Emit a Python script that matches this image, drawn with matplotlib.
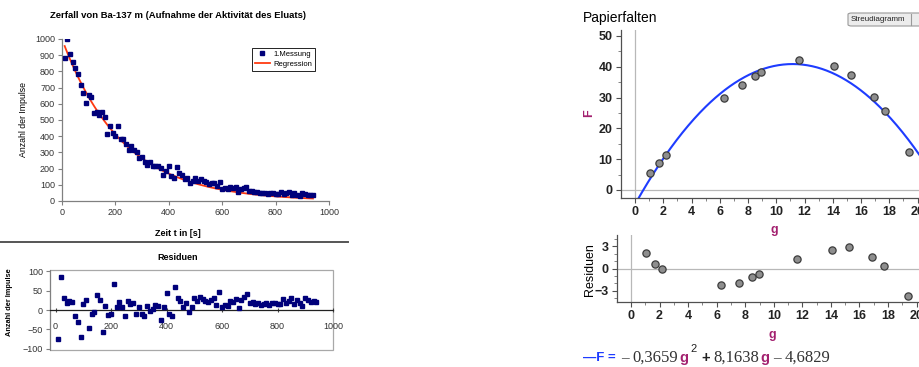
import matplotlib
matplotlib.use('Agg')
import matplotlib.pyplot as plt
import numpy as np
from matplotlib.patches import FancyBboxPatch, Rectangle
from matplotlib.lines import Line2D
from matplotlib.ticker import MultipleLocator

plt.rcParams['font.family'] = ['Liberation Sans', 'DejaVu Sans']

# ---------------- data: left panel (Ba-137m decay) ----------------
zeit = list(range(10, 950, 10))
impulse = [883, 1001, 907, 856, 823, 787, 717, 669, 602, 656,
           639, 541, 552, 531, 552, 517, 413, 460, 418, 402,
           461, 383, 380, 353, 313, 339, 316, 305, 266, 271,
           242, 225, 242, 217, 214, 216, 204, 159, 184, 214,
           152, 139, 208, 173, 159, 136, 141, 114, 122, 140,
           126, 133, 123, 115, 107, 109, 110, 90, 118, 76,
           80, 73, 85, 78, 84, 58, 77, 81, 88, 62,
           64, 56, 56, 51, 52, 52, 45, 48, 48, 44,
           44, 54, 43, 48, 55, 38, 47, 37, 29, 49,
           44, 37, 40, 37]
reg_start = 1000.0      # regression amplitude
reg_tau = 225.0         # regression decay time constant [s]

# ---------------- data: right panel (Papierfalten) ----------------
g_vals = [1.05, 1.7, 2.2, 6.3, 7.55, 8.5, 8.95, 11.6, 14.1, 15.3, 16.9, 17.7, 19.4]
F_vals = [5.5, 8.7, 11.4, 30.0, 34.1, 37.1, 38.3, 42.1, 40.1, 37.4, 30.3, 25.5, 12.3]
coef_a, coef_b, coef_c = -0.3659, 8.1638, -4.6829

W, H = 920, 367
fig = plt.figure(figsize=(W / 100, H / 100), dpi=100)
fig.patch.set_facecolor('white')


def add_ax(l, t, r, b):
    return fig.add_axes([l / W, 1 - b / H, (r - l) / W, (b - t) / H])


def ftext(x, y, s, **kw):
    return fig.text(x / W, 1 - y / H, s, **kw)


t = np.array(zeit, dtype=float)
counts = np.array(impulse, dtype=float)
regression = reg_start * np.exp(-t / reg_tau)
resid_left = counts - regression

navy = '#00007a'
# ---- left top ----
ax1 = add_ax(62, 39, 329, 201)
ax1.plot(t, counts, 's', color=navy, ms=2.3, mec=navy, label='1.Messung', zorder=3)
ax1.plot(t, regression, color='#ff3a10', lw=1.3, label='Regression', zorder=2)
ax1.set_xlim(0, 1000)
ax1.set_ylim(0, 1000)
ax1.set_xticks(range(0, 1001, 200))
ax1.set_yticks(range(0, 1001, 100))
for s in ['top', 'right']:
    ax1.spines[s].set_visible(False)
for s in ['left', 'bottom']:
    ax1.spines[s].set_color('#808080')
    ax1.spines[s].set_linewidth(0.9)
ax1.tick_params(labelsize=6.5, length=3, color='#808080', pad=2, labelcolor='#333333')
leg = ax1.legend(loc='upper left', bbox_to_anchor=(0.712, 0.945), fontsize=5.5,
                 frameon=True, fancybox=False, edgecolor='black', framealpha=1,
                 handlelength=2.0, borderpad=0.35, labelspacing=0.35, handletextpad=0.5,
                 borderaxespad=0)
leg.get_frame().set_linewidth(0.6)

ftext(178, 15, 'Zerfall von Ba-137 m (Aufnahme der Aktivität des Eluats)',
      ha='center', va='center', fontsize=6.8, fontweight='bold')
ftext(24, 120, 'Anzahl der Impulse', rotation=90, ha='center', va='center', fontsize=6.3)
ftext(178, 233, 'Zeit t in [s]', ha='center', va='center', fontsize=6.5, fontweight='bold')
fig.add_artist(Line2D([0, 348 / W], [1 - 242 / H, 1 - 242 / H], color='#555555', lw=1.4))

# ---- left residuals ----
ax2 = add_ax(50, 270, 333, 350)
ax2.plot(t, resid_left, 's', color=navy, ms=2.3, mec=navy, zorder=3)
ax2.set_xlim(-20, 1000)
ax2.set_ylim(-103, 103)
ax2.spines['bottom'].set_position(('data', 0))
ax2.spines['bottom'].set_color('#222222')
ax2.spines['bottom'].set_linewidth(0.9)
ax2.spines['left'].set_color('#808080')
for s in ['top', 'right']:
    ax2.spines[s].set_visible(False)
ax2.add_patch(Rectangle((0, 0), 1, 1, transform=ax2.transAxes, fill=False,
                        ec='#a8a8a8', lw=0.9, clip_on=False, zorder=0))
ax2.set_xticks(range(0, 1001, 200))
ax2.set_yticks([-100, -50, 0, 50, 100])
ax2.tick_params(axis='x', labelsize=6.5, length=3, direction='inout', pad=7,
                color='#444444', labelcolor='#333333')
ax2.tick_params(axis='y', labelsize=6.5, length=3, pad=2, color='#808080', labelcolor='#333333')
ftext(178, 257, 'Residuen', ha='center', va='center', fontsize=6.5, fontweight='bold')
ftext(10, 302, 'Anzahl der Impulse', rotation=90, ha='center', va='center',
      fontsize=5.3, fontweight='bold')

# ---------------- right panel ----------------
g = np.array(g_vals)
Fv = np.array(F_vals)
gg = np.linspace(0.0, 20.5, 300)
Fcurve = coef_a * gg ** 2 + coef_b * gg + coef_c
resid_right = Fv - (coef_a * g ** 2 + coef_b * g + coef_c)
purple = '#a3206f'
blue = '#1e3cff'


def style_right(ax):
    for s in ['top', 'right']:
        ax.spines[s].set_visible(False)
    for s in ['left', 'bottom']:
        ax.spines[s].set_color('#505050')
        ax.spines[s].set_linewidth(0.9)
    ax.xaxis.set_major_locator(MultipleLocator(2))
    ax.xaxis.set_minor_locator(MultipleLocator(1))
    ax.tick_params(which='major', labelsize=9, length=3.5, width=0.8,
                   color='#505050', pad=2.5, labelcolor='#222222')
    ax.tick_params(which='minor', length=2, width=0.6, color='#707070')
    for lab in ax.get_xticklabels() + ax.get_yticklabels():
        lab.set_fontweight('bold')
    ax.axvline(0, color='#b8b8b8', lw=0.9, zorder=1)
    ax.axhline(0, color='#b8b8b8', lw=0.9, zorder=1)


ax3 = add_ax(621, 30, 920, 198)
ax3.plot(gg, Fcurve, color=blue, lw=1.5, zorder=2)
ax3.plot(g, Fv, 'o', ms=5.2, mfc='#8e8e8e', mec='#3c3c3c', mew=0.9, zorder=3)
ax3.set_xlim(-0.99, 20.17)
ax3.set_ylim(-2.6, 51.9)
ax3.yaxis.set_major_locator(MultipleLocator(10))
ax3.yaxis.set_minor_locator(MultipleLocator(5))
style_right(ax3)

ax4 = add_ax(617, 235, 920, 302)
ax4.plot(g, resid_right, 'o', ms=5.2, mfc='#8e8e8e', mec='#3c3c3c', mew=0.9, zorder=3)
ax4.set_xlim(-0.98, 20.24)
ax4.set_ylim(-4.47, 4.47)
ax4.set_yticks([-3, 0, 3])
ax4.yaxis.set_minor_locator(MultipleLocator(1))
style_right(ax4)

ftext(583, 18, 'Papierfalten', ha='left', va='center', fontsize=10)
ftext(589, 113, 'F', rotation=90, ha='center', va='center', fontsize=9,
      fontweight='bold', color=purple)
ftext(774, 230, 'g', ha='center', va='center', fontsize=9, fontweight='bold', color=purple)
ftext(590, 270, 'Residuen', rotation=90, ha='center', va='center', fontsize=9)
ftext(772, 335, 'g', ha='center', va='center', fontsize=9, fontweight='bold', color=purple)

# button
fig.add_artist(FancyBboxPatch((848 / W, 1 - 26 / H), 78 / W, 13 / H,
                              boxstyle='round,pad=0,rounding_size=0.004',
                              transform=fig.transFigure, fc='#ececec', ec='#9a9a9a', lw=0.8))
fig.add_artist(Line2D([911 / W, 911 / W], [1 - 25 / H, 1 - 14 / H], color='#9a9a9a', lw=0.8))
ftext(851, 19.5, 'Streudiagramm', ha='left', va='center', fontsize=5.8, color='#222222')

# equation: laid out piece by piece
serif = ['Liberation Serif', 'DejaVu Serif']
ey = 358
renderer = fig.canvas.get_renderer()
ftext(583, ey, '—F =', ha='left', va='center', fontsize=9.5, fontweight='bold', color=blue)
num_kw = dict(fontsize=12, family=serif, color='#333333')
g_kw = dict(fontsize=10.5, fontweight='bold', color=purple)
pieces = [
    (621, 1, '–', dict(fontsize=11, family=serif, color='#444444'), 4),
    (None, 0, '0,3659', num_kw, 1),
    (None, 0, 'g', g_kw, 2),
    (None, -9, '2', dict(fontsize=8, color='#222222'), 5),
    (None, 0, '+', dict(fontsize=10.5, fontweight='bold', color='#222222'), 3),
    (None, 0, '8,1638', num_kw, 1),
    (None, 0, 'g', g_kw, 4),
    (None, 1, '–', dict(fontsize=11, family=serif, color='#444444'), 4),
    (None, 0, '4,6829', num_kw, 0),
]
cur = 621
for x0, dy, s, kw, gap in pieces:
    if x0 is not None:
        cur = x0
    txt = ftext(cur, ey + dy, s, ha='left', va='center', **kw)
    bb = txt.get_window_extent(renderer=renderer)
    cur = bb.x1 + gap

fig.savefig('out.png', dpi=100, facecolor='white')
